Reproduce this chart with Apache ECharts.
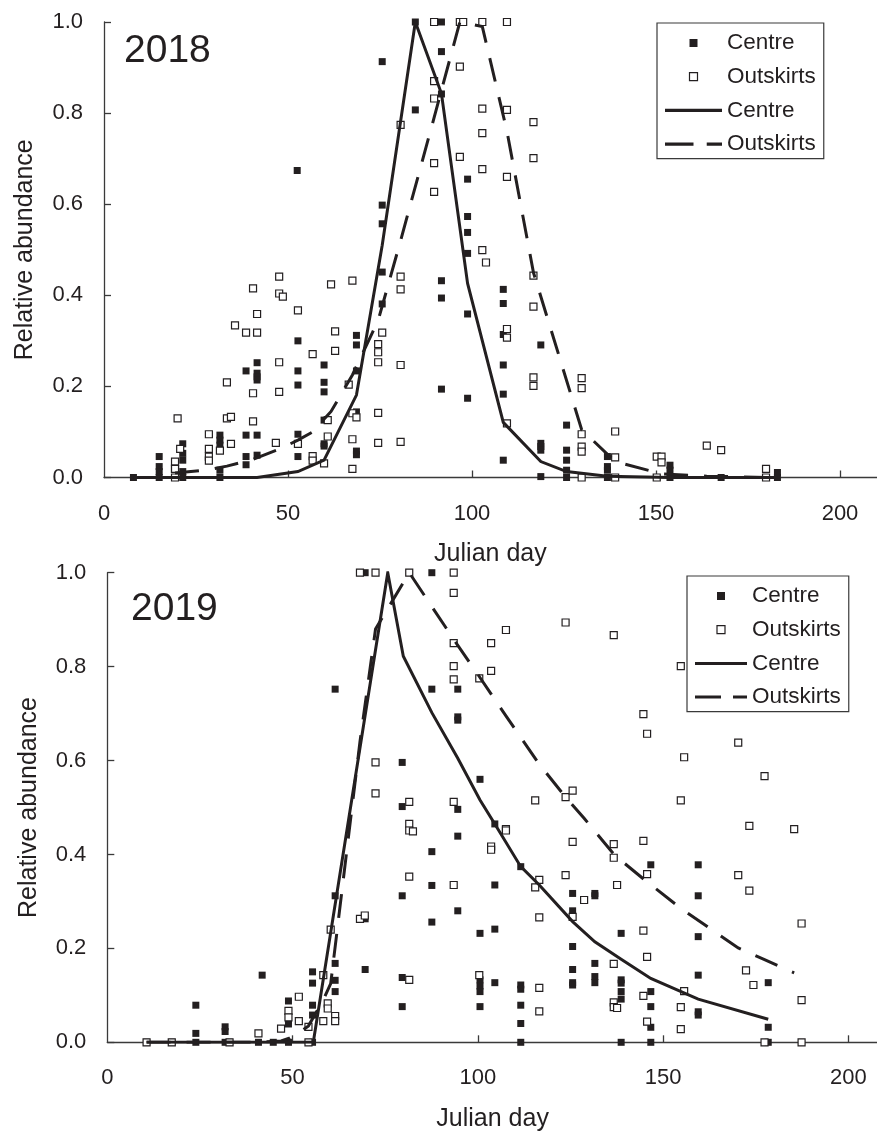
<!DOCTYPE html>
<html><head><meta charset="utf-8">
<script src="https://cdn.jsdelivr.net/npm/echarts@6/dist/echarts.min.js"></script>
<style>html,body{margin:0;padding:0;background:#fff}#c{width:877px;height:1134px}</style>
</head><body><div id="c"></div>
<script>
// ---------- data ----------
const xTickLabels = [0, 50, 100, 150, 200];
const xTickMarks = [50, 100, 150, 200];
const panelTitles = ['2018', '2019'];
const legendNames = ['Centre', 'Outskirts', 'Centre', 'Outskirts'];

// 2018 Centre samples [julian day, relative abundance]
const centrePts2018 = [
[8,0],
[15,0.046],[15,0.024],[15,0.013],[15,0],
[21.4,0.074],[21.4,0.053],[21.4,0.038],[21.4,0.013],[21.4,0],
[31.5,0.093],[31.5,0.082],[31.5,0.071],[31.5,0.016],[31.5,0],
[38.6,0.234],[38.6,0.093],[38.6,0.046],[38.6,0.028],
[41.6,0.252],[41.6,0.229],[41.6,0.221],[41.6,0.214],[41.6,0.093],[41.6,0.049],
[52.5,0.674],
[52.7,0.300],[52.7,0.234],[52.7,0.203],[52.7,0.095],[52.7,0.046],
[59.8,0.247],[59.8,0.209],[59.8,0.188],[59.8,0.126],[59.8,0.074],[59.8,0.069],
[68.6,0.312],[68.6,0.291],[68.6,0.234],[68.6,0.144],[68.6,0.058],[68.6,0.050],
[75.6,0.913],[75.6,0.598],[75.6,0.557],[75.6,0.451],[75.6,0.381],
[84.6,1.0],[84.6,0.807],
[91.7,1.0],[91.7,0.935],[91.7,0.842],[91.7,0.432],[91.7,0.394],[91.7,0.194],
[98.8,0.655],[98.8,0.573],[98.8,0.538],[98.8,0.492],[98.8,0.359],[98.8,0.174],
[108.5,0.413],[108.5,0.382],[108.5,0.314],[108.5,0.247],[108.5,0.183],[108.5,0.038],
[118.7,0.291],[118.7,0.075],[118.7,0.068],[118.7,0.060],[118.7,0.002],
[125.7,0.115],[125.7,0.060],[125.7,0.038],[125.7,0.016],[125.7,0],
[136.8,0.046],[136.8,0.024],[136.8,0.016],[136.8,0],
[153.8,0.027],[153.8,0.016],[153.8,0],
[167.7,0],[180,0],[183,0.011],[183,0]
];
// 2018 Outskirts samples
const outskirtsPts2018 = [
[19.3,0.035],[19.3,0.019],[19.3,0.019],[19.3,0],[20,0.130],[20.7,0.063],
[28.5,0.095],[28.5,0.063],[28.5,0.046],[28.5,0.037],
[31.5,0.059],
[33.4,0.209],[33.4,0.130],
[34.5,0.133],[34.5,0.074],
[35.6,0.334],[38.6,0.318],
[40.5,0.415],[40.5,0.185],[40.5,0.123],
[41.6,0.359],[41.6,0.318],
[46.7,0.076],
[47.6,0.441],[47.6,0.404],[47.6,0.253],[47.6,0.188],
[48.6,0.397],
[52.7,0.367],[52.7,0.074],
[56.7,0.271],[56.7,0.047],[56.7,0.037],
[59.8,0.031],
[60.8,0.126],[60.8,0.090],
[61.7,0.424],
[62.8,0.321],[62.8,0.278],
[66.5,0.204],
[67.5,0.432],[67.5,0.141],[67.5,0.084],[67.5,0.019],
[68.6,0.132],
[74.5,0.293],[74.5,0.275],[74.5,0.253],[74.5,0.142],[74.5,0.076],
[75.6,0.318],
[80.6,0.774],[80.6,0.441],[80.6,0.413],[80.6,0.247],[80.6,0.078],
[89.7,1.0],[89.7,0.870],[89.7,0.832],[89.7,0.690],[89.7,0.627],
[96.7,1.0],[96.7,0.902],[96.7,0.704],
[97.6,1.0],
[102.8,1.0],[102.8,0.810],[102.8,0.756],[102.8,0.677],[102.8,0.499],
[103.8,0.472],
[109.5,1.0],[109.5,0.807],[109.5,0.660],[109.5,0.326],[109.5,0.307],[109.5,0.119],
[116.7,0.780],[116.7,0.701],[116.7,0.443],[116.7,0.375],[116.7,0.220],[116.7,0.201],
[129.8,0.218],[129.8,0.196],[129.8,0.095],[129.8,0.068],[129.8,0.057],[129.8,0],
[138.9,0.101],[138.9,0.044],[138.9,0],
[150.2,0.046],[150.2,0],
[151.5,0.046],[151.5,0.033],
[163.8,0.070],[167.7,0.060],
[179.9,0.019],[179.9,0]
];
// 2018 fitted curves
const centreLine2018 = [[8,0],[15,0],[21.4,0],[31.5,0],[41.6,0],[52.7,0.013],[59.8,0.038],[68.6,0.181],[75.6,0.51],[84.6,1.0],[91.7,0.843],[98.8,0.426],[108.5,0.121],[118.7,0.035],[125.7,0.013],[136.8,0.003],[153.8,0],[167.7,0],[183,0]];
const outskirtsLine2018 = [[19.3,0.01],[28.5,0.017],[33.4,0.025],[40.5,0.04],[47.6,0.062],[52.7,0.082],[56.7,0.1],[61.7,0.145],[67.5,0.225],[74.5,0.345],[80.6,0.52],[89.7,0.79],[96.7,1.0],[102.8,0.99],[109.5,0.76],[116.7,0.45],[129.8,0.105],[138.9,0.035],[151.5,0.008],[163.8,0.003],[179.9,0]];

// 2019 Centre samples
const centrePts2019 = [
[10.6,0],[17.4,0],
[23.9,0.079],[23.9,0.019],[23.9,0],
[31.8,0.033],[31.8,0.023],[31.8,0],[33,0],
[40.8,0],[41.8,0.143],[44.8,0],
[48.9,0.088],[48.9,0.047],[48.9,0.039],[48.9,0],
[55.4,0.150],[55.4,0.126],[55.4,0.079],[55.4,0.058],[55.4,0],
[61.5,0.752],[61.5,0.312],[61.5,0.168],[61.5,0.132],[61.5,0.108],
[69.6,1.0],[69.6,0.263],[69.6,0.155],
[79.6,0.596],[79.6,0.502],[79.6,0.312],[79.6,0.138],[79.6,0.076],
[87.6,1.0],[87.6,0.752],[87.6,0.406],[87.6,0.334],[87.6,0.256],
[94.6,0.752],[94.6,0.693],[94.6,0.686],[94.6,0.496],[94.6,0.439],[94.6,0.280],
[100.6,0.560],[100.6,0.232],[100.6,0.133],[100.6,0.120],[100.6,0.108],[100.6,0.076],
[104.6,0.465],[104.6,0.335],[104.6,0.241],[104.6,0.127],
[111.6,0.374],[111.6,0.122],[111.6,0.113],[111.6,0.079],[111.6,0.040],[111.6,0],
[125.6,0.317],[125.6,0.280],[125.6,0.204],[125.6,0.155],[125.6,0.127],[125.6,0.122],
[131.6,0.317],[131.6,0.312],[131.6,0.168],[131.6,0.140],[131.6,0.127],
[138.7,0.232],[138.7,0.133],[138.7,0.126],[138.7,0.108],[138.7,0.092],[138.7,0],
[146.7,0.378],[146.7,0.108],[146.7,0.076],[146.7,0.032],[146.7,0],
[159.5,0.378],[159.5,0.312],[159.5,0.225],[159.5,0.143],[159.5,0.065],[159.5,0.058],
[178.4,0.127],[178.4,0.032],[178.4,0]
];
// 2019 Outskirts samples
const outskirtsPts2019 = [
[10.6,0],[17.4,0],[33,0],
[40.8,0.019],[46.9,0.029],
[48.9,0.067],[48.9,0.053],
[51.7,0.097],[51.7,0.045],
[54.3,0.033],[54.3,0],
[58.3,0.143],[58.3,0.045],
[59.5,0.083],[59.5,0.072],
[60.3,0.240],
[61.5,0.056],[61.5,0.045],
[68.2,1.0],[68.2,0.263],[69.5,0.270],
[72.4,1.0],[72.4,0.596],[72.4,0.530],
[81.5,1.0],[81.5,0.512],[81.5,0.465],[81.5,0.451],[81.5,0.353],[81.5,0.133],[82.5,0.449],
[93.5,1.0],[93.5,0.957],[93.5,0.850],[93.5,0.801],[93.5,0.773],[93.5,0.512],[93.5,0.335],
[100.4,0.775],[100.4,0.143],
[103.6,0.850],[103.6,0.791],[103.6,0.417],[103.6,0.410],
[107.6,0.878],[107.6,0.454],[107.6,0.451],
[115.5,0.515],[115.5,0.330],
[116.6,0.346],[116.6,0.266],[116.6,0.116],[116.6,0.066],
[123.7,0.894],[123.7,0.522],[123.7,0.356],
[125.6,0.536],[125.6,0.427],[125.6,0.267],
[128.7,0.303],
[136.7,0.867],[136.7,0.422],[136.7,0.393],[136.7,0.167],[136.7,0.085],[136.7,0.075],
[137.6,0.335],[137.6,0.073],
[144.7,0.699],[144.7,0.429],[144.7,0.238],[144.7,0.099],
[145.7,0.657],[145.7,0.358],[145.7,0.182],[145.7,0.044],
[154.8,0.801],[154.8,0.515],[154.8,0.075],[154.8,0.028],
[155.7,0.607],[155.7,0.109],
[170.3,0.638],[170.3,0.356],
[172.4,0.153],
[173.3,0.461],[173.3,0.323],
[174.4,0.122],
[177.4,0.567],[177.4,0],
[185.4,0.454],
[187.4,0.253],[187.4,0.090],[187.4,0]
];
// 2019 fitted curves
const centreLine2019 = [[10.6,0],[17.4,0],[23.9,0],[31.8,0],[40.8,0],[48.9,0],[55.6,0],[75.7,1.0],[79.9,0.822],[87.6,0.702],[94.6,0.605],[100.6,0.516],[104.6,0.465],[111.6,0.374],[116.6,0.335],[125.6,0.257],[131.6,0.214],[138.7,0.177],[146.7,0.136],[159.5,0.092],[178.4,0.049]];
const outskirtsLine2019 = [[10.6,0],[40.8,0],[46.9,0.003],[48.9,0.008],[51.7,0.02],[54.3,0.035],[58.3,0.09],[60.3,0.125],[68.2,0.64],[72.4,0.88],[81.5,1.0],[93.5,0.858],[100.4,0.779],[107.6,0.695],[116.6,0.592],[123.7,0.522],[128.7,0.477],[137,0.398],[145,0.346],[155,0.284],[170.3,0.201],[177.4,0.176],[185.4,0.148]];

// ---------- styling ----------
const FONT = '"Liberation Sans", Arial, Helvetica, sans-serif';
const INK = '#231f20';
const AXIS = '#3a3a3a';
const SQ = 'path://M0,0H10V10H0Z';

function xAxisCfg(gi, max, gap) {
  return {
    type: 'value', gridIndex: gi, min: 0, max: max,
    name: 'Julian day', nameLocation: 'middle', nameGap: gap,
    nameTextStyle: { fontFamily: FONT, fontSize: 25, color: INK },
    axisLine: { show: true, onZero: false, lineStyle: { color: AXIS, width: 1.3 } },
    axisTick: { show: true, inside: true, length: 7, customValues: xTickMarks, lineStyle: { color: AXIS, width: 1.3 } },
    axisLabel: { show: true, margin: 25, customValues: xTickLabels, fontFamily: FONT, fontSize: 22, color: INK },
    splitLine: { show: false }
  };
}
function yAxisCfg(gi, gap) {
  return {
    type: 'value', gridIndex: gi, min: 0, max: 1, interval: 0.2,
    name: 'Relative abundance', nameLocation: 'middle', nameGap: gap, nameRotate: 90,
    nameTextStyle: { fontFamily: FONT, fontSize: 25, color: INK },
    axisLine: { show: true, onZero: false, lineStyle: { color: AXIS, width: 1.3 } },
    axisTick: { show: true, inside: true, length: 7, lineStyle: { color: AXIS, width: 1.3 } },
    axisLabel: { show: true, margin: 21, fontFamily: FONT, fontSize: 22, color: INK, formatter: v => v.toFixed(1) },
    splitLine: { show: false }
  };
}
function legendCfg(prefix, left, top, iw, dashPath, linePath) {
  return {
    orient: 'vertical', left: left, top: top, align: 'left',
    padding: [8.5, 8, 3, 8], itemGap: 10.7, itemWidth: iw, itemHeight: 8,
    borderColor: AXIS, borderWidth: 1.2, backgroundColor: '#fff',
    selectedMode: false,
    textStyle: { fontFamily: FONT, fontSize: 22.5, color: INK },
    formatter: n => n.split('|')[1],
    data: [
      { name: prefix + 'a|' + legendNames[0], icon: SQ, itemStyle: { color: INK, borderWidth: 0 } },
      { name: prefix + 'b|' + legendNames[1], icon: SQ, itemStyle: { color: '#fff', borderColor: INK, borderWidth: 1.2 } },
      { name: prefix + 'c|' + legendNames[2], icon: linePath, itemStyle: { color: INK, borderWidth: 0 } },
      { name: prefix + 'd|' + legendNames[3], icon: dashPath, itemStyle: { color: INK, borderWidth: 0 } }
    ]
  };
}
function scatterCfg(name, gi, data, filled) {
  return {
    type: 'scatter', name: name, xAxisIndex: gi, yAxisIndex: gi, data: data,
    symbol: 'rect', symbolSize: 7, silent: true, z: 2,
    itemStyle: filled ? { color: INK, borderWidth: 0, opacity: 1 } : { color: '#fff', borderColor: INK, borderWidth: 1.2, opacity: 1 }
  };
}
function lineCfg(name, gi, data, dashed) {
  return {
    type: 'line', name: name, xAxisIndex: gi, yAxisIndex: gi, data: data,
    symbol: 'none', showSymbol: false, silent: true, z: 3,
    lineStyle: { color: INK, width: 3, type: dashed ? [24, 16] : 'solid', cap: 'butt', join: 'miter' }
  };
}

const chart = echarts.init(document.getElementById('c'), null, { renderer: 'canvas' });
chart.setOption({
  animation: false,
  backgroundColor: '#fff',
  title: [
    { text: panelTitles[0], left: 119, top: 27, textStyle: { fontFamily: FONT, fontSize: 39, fontWeight: 'normal', color: INK } },
    { text: panelTitles[1], left: 126, top: 585, textStyle: { fontFamily: FONT, fontSize: 39, fontWeight: 'normal', color: INK } }
  ],
  grid: [
    { left: 104, top: 22, width: 772.8, height: 455.5, containLabel: false, outerBoundsMode: 'none' },
    { left: 107.3, top: 572.7, width: 770.6, height: 469.6, containLabel: false, outerBoundsMode: 'none' }
  ],
  xAxis: [xAxisCfg(0, 210, 64), xAxisCfg(1, 208, 64)],
  yAxis: [yAxisCfg(0, 66), yAxisCfg(1, 66)],
  legend: [
    legendCfg('T', 657, 23, 57, 'path://M0,0H28V3H0Z M41,0H56V3H41Z', 'path://M0,0H56V3H0Z'),
    legendCfg('B', 687, 576, 52, 'path://M0,0H26V3H0Z M38,0H52V3H38Z', 'path://M0,0H52V3H0Z')
  ],
  series: [
    scatterCfg('Ta|Centre', 0, centrePts2018, true),
    scatterCfg('Tb|Outskirts', 0, outskirtsPts2018, false),
    lineCfg('Tc|Centre', 0, centreLine2018, false),
    lineCfg('Td|Outskirts', 0, outskirtsLine2018, true),
    scatterCfg('Ba|Centre', 1, centrePts2019, true),
    scatterCfg('Bb|Outskirts', 1, outskirtsPts2019, false),
    lineCfg('Bc|Centre', 1, centreLine2019, false),
    lineCfg('Bd|Outskirts', 1, outskirtsLine2019, true)
  ]
});
</script>
</body></html>
